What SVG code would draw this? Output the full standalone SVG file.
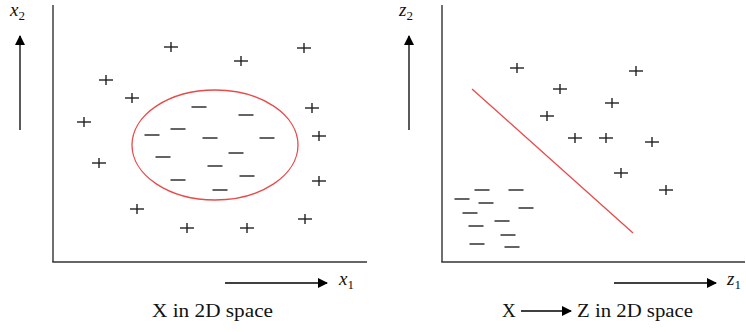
<svg xmlns="http://www.w3.org/2000/svg" xmlns:xlink="http://www.w3.org/1999/xlink" width="746" height="332" viewBox="0 0 746 332">
<style>
.ax{stroke:#333;stroke-width:1.4;fill:none}
.ar{stroke:#000;stroke-width:1.3;fill:none}
.red{stroke:#e84a4a;stroke-width:1.3;fill:none}
.mk{stroke:#222;stroke-width:1.4;fill:none}
.lab{font-family:"Liberation Serif",serif;font-style:italic;font-size:19px;fill:#111}
.sub{font-size:13px;font-style:normal}
.cap{font-family:"Liberation Serif",serif;font-size:19px;fill:#111}
</style>
<defs>
<marker id="ah" markerWidth="10" markerHeight="10" refX="9" refY="5" orient="auto" markerUnits="userSpaceOnUse">
<path d="M0,0 L10,5 L0,10 Z" fill="#000"/>
</marker>
<g id="p"><line x1="-7" y1="0" x2="7" y2="0"/><line x1="0" y1="-5" x2="0" y2="5"/></g>
<g id="m"><line x1="-7.5" y1="0" x2="7.5" y2="0"/></g>
</defs>

<g id="left-panel">
<g id="left-axes">
<line class="ax" x1="53" y1="5" x2="53" y2="262"/>
<line class="ax" x1="52.3" y1="262" x2="367" y2="262"/>
</g>
<g id="x2-arrow">
<line class="ar" x1="20" y1="130" x2="20" y2="36" marker-end="url(#ah)"/>
<text class="lab" x="10" y="16">x<tspan class="sub" dy="4">2</tspan></text>
</g>
<g id="x1-arrow">
<line class="ar" x1="225" y1="283" x2="327" y2="283" marker-end="url(#ah)"/>
<text class="lab" x="339" y="285">x<tspan class="sub" dy="4">1</tspan></text>
</g>
<ellipse id="circle-boundary" class="red" cx="215" cy="145" rx="83" ry="55"/>
<g id="left-plus" class="mk">
<use xlink:href="#p" x="171" y="47"/>
<use xlink:href="#p" x="304" y="48"/>
<use xlink:href="#p" x="241" y="61"/>
<use xlink:href="#p" x="106" y="80"/>
<use xlink:href="#p" x="132" y="98"/>
<use xlink:href="#p" x="312" y="108"/>
<use xlink:href="#p" x="84" y="122"/>
<use xlink:href="#p" x="319" y="136"/>
<use xlink:href="#p" x="99" y="163"/>
<use xlink:href="#p" x="319" y="181"/>
<use xlink:href="#p" x="137" y="209"/>
<use xlink:href="#p" x="187" y="228"/>
<use xlink:href="#p" x="247" y="228"/>
<use xlink:href="#p" x="305" y="219"/>
</g>
<g id="left-minus" class="mk">
<use xlink:href="#m" x="199" y="107"/>
<use xlink:href="#m" x="246" y="115"/>
<use xlink:href="#m" x="178" y="129"/>
<use xlink:href="#m" x="152" y="135"/>
<use xlink:href="#m" x="210" y="138"/>
<use xlink:href="#m" x="267" y="138"/>
<use xlink:href="#m" x="163" y="157"/>
<use xlink:href="#m" x="236" y="153"/>
<use xlink:href="#m" x="215" y="166"/>
<use xlink:href="#m" x="178" y="180"/>
<use xlink:href="#m" x="247" y="176"/>
<use xlink:href="#m" x="220" y="190"/>
</g>
<text id="left-caption" class="cap" x="152" y="317" textLength="121" lengthAdjust="spacingAndGlyphs">X in 2D space</text>
</g>

<g id="right-panel">
<g id="right-axes">
<line class="ax" x1="442" y1="5" x2="442" y2="262"/>
<line class="ax" x1="441.3" y1="262" x2="745" y2="262"/>
</g>
<g id="z2-arrow">
<line class="ar" x1="409" y1="130" x2="409" y2="36" marker-end="url(#ah)"/>
<text class="lab" x="399" y="16">z<tspan class="sub" dy="4">2</tspan></text>
</g>
<g id="z1-arrow">
<line class="ar" x1="614" y1="283" x2="716" y2="283" marker-end="url(#ah)"/>
<text class="lab" x="727" y="285">z<tspan class="sub" dy="4">1</tspan></text>
</g>
<line id="linear-boundary" class="red" x1="472" y1="89" x2="633" y2="233"/>
<g id="right-plus" class="mk">
<use xlink:href="#p" x="517" y="68"/>
<use xlink:href="#p" x="636" y="71"/>
<use xlink:href="#p" x="560" y="89"/>
<use xlink:href="#p" x="612" y="103"/>
<use xlink:href="#p" x="547" y="116"/>
<use xlink:href="#p" x="575" y="138"/>
<use xlink:href="#p" x="606" y="138"/>
<use xlink:href="#p" x="652" y="142"/>
<use xlink:href="#p" x="621" y="173"/>
<use xlink:href="#p" x="666" y="190"/>
</g>
<g id="right-minus" class="mk">
<use xlink:href="#m" x="482" y="190"/>
<use xlink:href="#m" x="516" y="190"/>
<use xlink:href="#m" x="462" y="199"/>
<use xlink:href="#m" x="486" y="203"/>
<use xlink:href="#m" x="526" y="208"/>
<use xlink:href="#m" x="470" y="213"/>
<use xlink:href="#m" x="502" y="221"/>
<use xlink:href="#m" x="476" y="226"/>
<use xlink:href="#m" x="508" y="235"/>
<use xlink:href="#m" x="477" y="244"/>
<use xlink:href="#m" x="512" y="247"/>
</g>
<g id="right-caption">
<text class="cap" x="502" y="317">X</text>
<line class="ar" x1="521" y1="311" x2="571" y2="311" marker-end="url(#ah)"/>
<text class="cap" x="577" y="317" textLength="116" lengthAdjust="spacingAndGlyphs">Z in 2D space</text>
</g>
</g>
</svg>
